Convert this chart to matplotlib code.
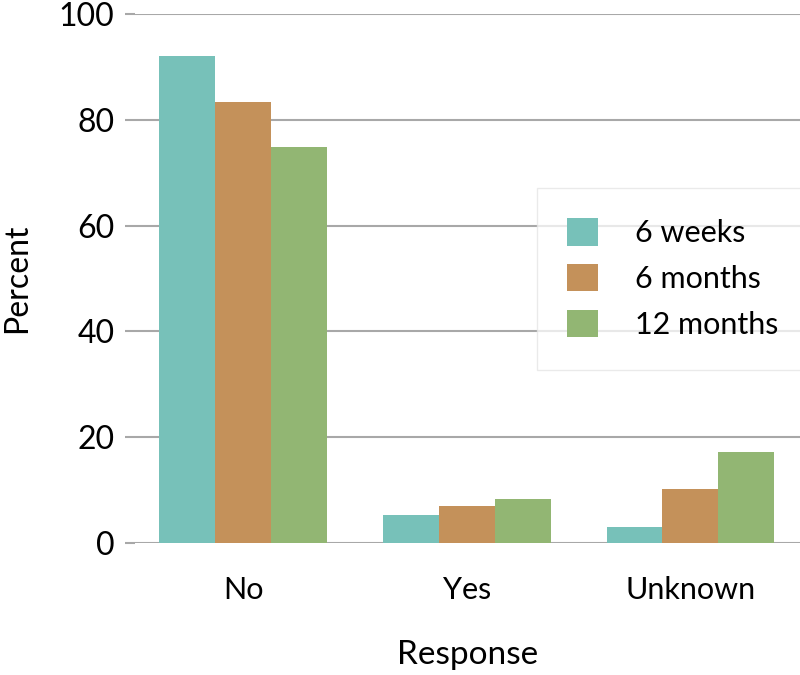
import matplotlib
matplotlib.use("Agg")
import matplotlib.pyplot as plt
import numpy as np

plt.rcParams['font.family'] = ['Lato', 'DejaVu Sans']

categories = ["No", "Yes", "Unknown"]
series_names = ["6 weeks", "6 months", "12 months"]
six_weeks = [92.1, 5.3, 3.0]
six_months = [83.4, 7.0, 10.3]
twelve_months = [74.9, 8.4, 17.2]
colors = ["#77C1B9", "#C4915A", "#92B673"]
y_ticks = [0, 20, 40, 60, 80, 100]

fig = plt.figure(figsize=(8, 6.75), dpi=100)
ax = fig.add_axes([0.169, 0.1956, 0.831, 0.7834])

x = np.arange(len(categories))
width = 0.25
for i, (vals, name) in enumerate(zip([six_weeks, six_months, twelve_months], series_names)):
    ax.bar(x + (i - 1) * width, vals, width, color=colors[i], label=name, zorder=2)

ax.set_ylim(0, 100)
ax.set_xlim(-0.483, 2.49)
ax.set_yticks(y_ticks)
ax.set_xticks(x)
ax.set_xticklabels(categories)
ax.grid(axis='y', color='#a8a8a8', lw=1.5, zorder=0)
for s in ax.spines.values():
    s.set_visible(False)
ax.tick_params(axis='y', length=7, width=1.5, color='#a8a8a8', pad=8, labelsize=23)
ax.tick_params(axis='x', length=0, pad=24, labelsize=22)
ax.set_ylabel("Percent", fontsize=23, labelpad=19)
ax.set_xlabel("Response", fontsize=24, labelpad=26)

leg = ax.legend(loc='upper left', bbox_to_anchor=(0.604, 0.672), fontsize=22,
                frameon=True, fancybox=False, framealpha=0.75, edgecolor='#e4e4e4',
                handlelength=1.0, handleheight=1.0, handletextpad=1.2,
                borderpad=1.0, labelspacing=0.55, borderaxespad=0)
leg.get_frame().set_linewidth(1.0)

fig.savefig("out.png", dpi=100)
